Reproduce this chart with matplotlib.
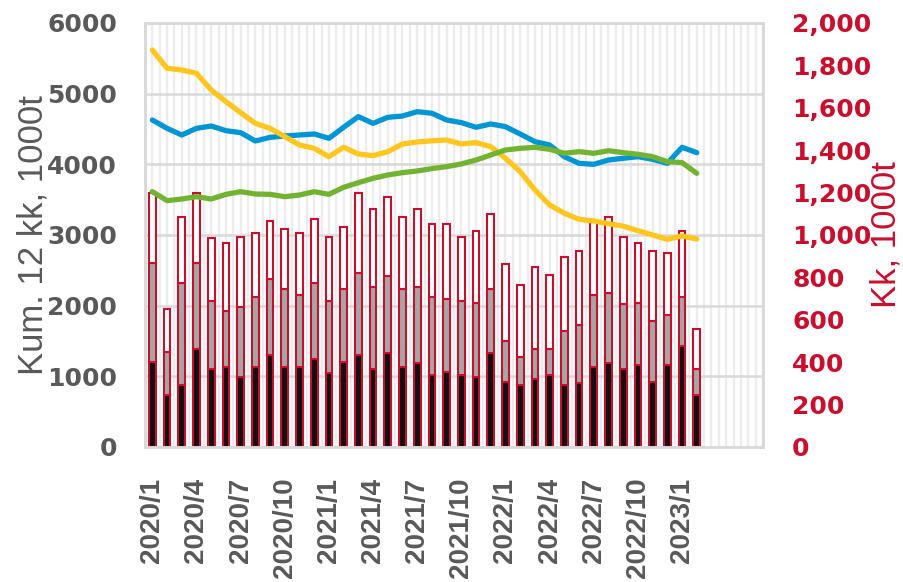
import matplotlib
matplotlib.use('Agg')
import matplotlib.pyplot as plt
import numpy as np

plt.rcParams['font.family'] = ['Liberation Sans', 'DejaVu Sans']

# months 2020/1 .. 2023/2
months = [f'{y}/{m}' for y in (2020, 2021, 2022, 2023) for m in range(1, 13)][:38]

# monthly volumes (right axis, 1000t), stacked
black = [402, 245, 292, 461, 366, 379, 332, 379, 434, 379, 379, 414, 348, 402, 434, 366, 442, 379, 395, 340,
         355, 340, 329, 442, 308, 292, 319, 340, 292, 300, 376, 395, 366, 387, 308, 387, 478, 245]
grey = [464, 205, 480, 405, 323, 263, 327, 327, 357, 366, 338, 358, 341, 343, 388, 387, 366, 366, 358, 366,
        343, 350, 352, 303, 192, 134, 143, 122, 255, 275, 341, 333, 307, 294, 288, 236, 228, 123]
white = [334, 201, 314, 334, 295, 322, 330, 305, 276, 285, 294, 305, 300, 294, 378, 371, 373, 341, 371, 344,
         352, 302, 339, 353, 362, 338, 389, 349, 351, 350, 346, 358, 319, 283, 329, 294, 314, 189]

# rolling 12 month totals (left axis)
blue = [4627, 4509, 4415, 4509, 4542, 4476, 4448, 4330, 4382, 4401, 4415, 4429, 4368, 4524, 4675, 4580, 4665,
        4684, 4745, 4722, 4627, 4590, 4524, 4571, 4533, 4429, 4321, 4274, 4108, 4014, 4000, 4061, 4085, 4108,
        4071, 4014, 4241, 4165]
yellow = [5618, 5359, 5335, 5288, 5052, 4887, 4731, 4580, 4509, 4392, 4274, 4226, 4108, 4241, 4146, 4123, 4179,
          4288, 4316, 4333, 4344, 4288, 4307, 4250, 4085, 3896, 3637, 3425, 3307, 3222, 3198, 3160, 3125, 3061,
          3000, 2939, 2986, 2943]
green = [3613, 3486, 3509, 3542, 3509, 3575, 3613, 3580, 3575, 3542, 3566, 3613, 3575, 3675, 3740, 3802, 3849,
         3882, 3906, 3940, 3967, 4005, 4061, 4132, 4203, 4226, 4241, 4212, 4156, 4179, 4156, 4193, 4165, 4142,
         4108, 4038, 4024, 3873]

n_slots = 42  # axis runs on past the data to 2023/6
txt = '#595959'
red = '#C8102E'

fig, ax = plt.subplots(figsize=(9.04, 5.82), dpi=100)
fig.subplots_adjust(left=0.1604, right=0.844, bottom=0.232, top=0.9605)
ax2 = ax.twinx()

x = np.arange(len(months))

# background grid on the lower axes so bars cover it
ax2.vlines(np.arange(-0.5, n_slots, 0.5), 0, 2000, colors='#ececec', lw=1.6, zorder=0)
for v in range(1000, 6001, 1000):
    ax2.axhline(v / 3, color='#d9d9d9', lw=1.8, zorder=0)

w = 0.45
ax2.bar(x, black, w, color='#111111', edgecolor=red, lw=1.5, zorder=2)
ax2.bar(x, grey, w, bottom=black, color='#A6A6A6', edgecolor=red, lw=1.5, zorder=2)
ax2.bar(x, white, w, bottom=np.array(black) + np.array(grey), color='white', edgecolor=red, lw=1.5, zorder=2)

ax.plot(x, blue, color='#0096D6', lw=3.8, solid_capstyle='round')
ax.plot(x, yellow, color='#FFC61E', lw=3.8, solid_capstyle='round')
ax.plot(x, green, color='#72B432', lw=3.8, solid_capstyle='round')

ax.set_zorder(ax2.get_zorder() + 1)
ax.patch.set_visible(False)

ax.set_xlim(-0.5, n_slots - 0.5)
ax.set_ylim(0, 6000)
ax2.set_ylim(0, 2000)

ax.set_yticks(range(0, 6001, 1000))
ax.set_yticklabels([str(v) for v in range(0, 6001, 1000)], fontsize=18, fontweight='bold',
                   color=txt, family='DejaVu Sans')
ax2.set_yticks(range(0, 2001, 200))
ax2.set_yticklabels([f'{v:,}' for v in range(0, 2001, 200)], fontsize=18, fontweight='bold',
                    color=red, family='DejaVu Sans')

ticks = list(range(0, len(months), 3))
ax.set_xticks(ticks)
ax.set_xticklabels([months[i] for i in ticks], rotation=90, fontsize=20, fontweight='bold', color=txt)

ax.tick_params(axis='x', length=0, pad=22)
ax.tick_params(axis='y', length=0, pad=20)
ax2.tick_params(axis='y', length=0, pad=21)

for a in (ax, ax2):
    for s in a.spines.values():
        s.set_color('#d9d9d9')
        s.set_linewidth(1.8)

ax.set_ylabel('Kum. 12 kk, 1000t', fontsize=25, color=txt)
ax.yaxis.set_label_coords(-0.155, 0.5)
ax2.set_ylabel('Kk, 1000t', fontsize=25, color=red)
ax2.yaxis.set_label_coords(1.172, 0.5)

fig.savefig('out.png', dpi=100)
